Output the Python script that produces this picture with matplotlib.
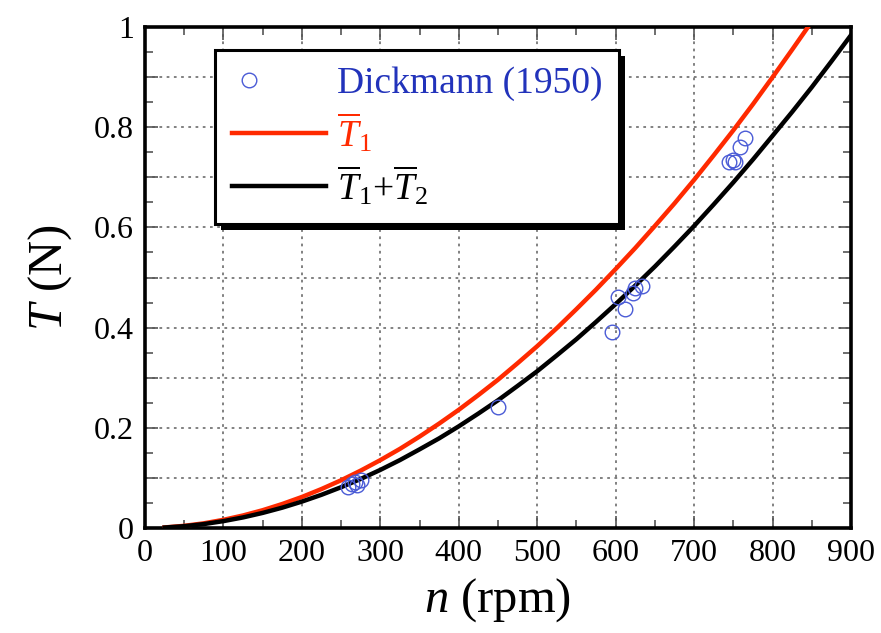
import matplotlib
matplotlib.use("Agg")
import matplotlib.pyplot as plt
from matplotlib.patches import Rectangle
from matplotlib.transforms import IdentityTransform
from matplotlib.legend_handler import HandlerLine2D
from matplotlib.ticker import MultipleLocator, FuncFormatter

# data
n_curve = [25, 50, 75, 100, 125, 150, 175, 200, 225, 250, 275, 300, 325, 350, 375, 400, 425, 450,
           475, 500, 525, 550, 575, 600, 625, 650, 675, 700, 725, 750, 775, 800, 825, 850, 875, 900]
t1_curve = [0.0011, 0.0043, 0.0093, 0.0163, 0.025, 0.0355, 0.0479, 0.0619, 0.0778, 0.0953, 0.1146,
            0.1355, 0.158, 0.1825, 0.2085, 0.236, 0.2654, 0.296, 0.329, 0.363, 0.399, 0.437, 0.476,
            0.517, 0.559, 0.603, 0.648, 0.695, 0.744, 0.794, 0.846, 0.900, 0.955, 1.011, 1.07, 1.13]
t12_curve = [0.0009, 0.0036, 0.0078, 0.0137, 0.0211, 0.0301, 0.0406, 0.0527, 0.0663, 0.0814, 0.0979,
             0.116, 0.1356, 0.157, 0.179, 0.203, 0.2285, 0.255, 0.2837, 0.313, 0.3447, 0.377, 0.4115,
             0.447, 0.484, 0.522, 0.562, 0.603, 0.646, 0.690, 0.7356, 0.783, 0.8307, 0.880, 0.9315, 0.984]

n_exp = [259, 264, 268, 270, 275, 450, 595, 603, 612, 622, 625, 634, 745, 750, 752, 758, 765]
t_exp = [0.082, 0.088, 0.092, 0.086, 0.096, 0.242, 0.391, 0.461, 0.437, 0.469, 0.479, 0.483,
         0.731, 0.735, 0.731, 0.760, 0.778]

plt.rcParams["font.family"] = ["Liberation Serif", "DejaVu Serif"]
plt.rcParams["mathtext.fontset"] = "custom"
plt.rcParams["mathtext.rm"] = "Liberation Serif"
plt.rcParams["mathtext.it"] = "Liberation Serif:italic"


class LeftMarkerHandler(HandlerLine2D):
    # single legend marker near the left end of the handle, like the original
    def create_artists(self, legend, orig_handle, xdescent, ydescent, width, height, fontsize, trans):
        arts = super().create_artists(legend, orig_handle, xdescent, ydescent, width, height,
                                      fontsize, trans)
        ln = arts[0]
        ln.set_markevery(None)
        ln.set_data([0.18 * width - xdescent], [(height - ydescent) / 2])
        return arts


fig = plt.figure(figsize=(8.81, 6.33), dpi=100)
ax = fig.add_axes([0.1646, 0.1659, 0.8014, 0.7914])

pts, = ax.plot(n_exp, t_exp, "o", ms=10.5, mfc="none", mec="#4a5bd6", mew=1.0,
               label="Dickmann (1950)", zorder=4)
ax.plot(n_curve, t1_curve, color="#ff2a00", lw=3.2, label=r"$\overline{T}_1$", zorder=3)
ax.plot(n_curve, t12_curve, color="black", lw=3.2, label=r"$\overline{T}_1$+$\overline{T}_2$", zorder=3)

ax.set_xlim(0, 900)
ax.set_ylim(0, 1)
ax.xaxis.set_major_locator(MultipleLocator(100))
ax.xaxis.set_minor_locator(MultipleLocator(50))
ax.yaxis.set_major_locator(MultipleLocator(0.1))
ax.yaxis.set_minor_locator(MultipleLocator(0.05))

def ylab(v, pos):
    k = int(round(v * 10))
    if k % 2:
        return ""
    return "%g" % (k / 10)

ax.yaxis.set_major_formatter(FuncFormatter(ylab))
ax.grid(True, which="major", ls=(0, (1.5, 2.5)), color="#777777", lw=1.3)
ax.tick_params(which="both", direction="in", top=True, right=True, labelsize=23, width=1.2,
               colors="#555555", labelcolor="black")
ax.tick_params(which="major", length=9, pad=8)
ax.tick_params(which="minor", length=6)
for s in ax.spines.values():
    s.set_linewidth(2.6)

ax.set_xlabel(r"$n$ (rpm)", fontsize=35, labelpad=6)
ax.set_ylabel(r"$T$ (N)", fontsize=35, labelpad=14)

leg = ax.legend(loc="upper left", bbox_to_anchor=(0.099, 0.955), fontsize=27, frameon=True,
                fancybox=False, framealpha=1, edgecolor="black", handlelength=2.5,
                handletextpad=0.3, borderpad=0.45, labelspacing=0.25, borderaxespad=0,
                handler_map={pts: LeftMarkerHandler(numpoints=1)})
leg.get_frame().set_linewidth(2.2)
leg.set_zorder(6)
for txt, c in zip(leg.get_texts(), ["#2233bb", "#ff2a00", "black"]):
    txt.set_color(c)

# heavy black drop shadow behind the legend box
fig.canvas.draw()
bb = leg.get_window_extent()
shadow = Rectangle((bb.x0 + 6, bb.y0 - 6), bb.width, bb.height, transform=IdentityTransform(),
                   facecolor="black", edgecolor="none", zorder=5.5, clip_on=False)
ax.add_patch(shadow)

fig.savefig("out.png", dpi=100)
